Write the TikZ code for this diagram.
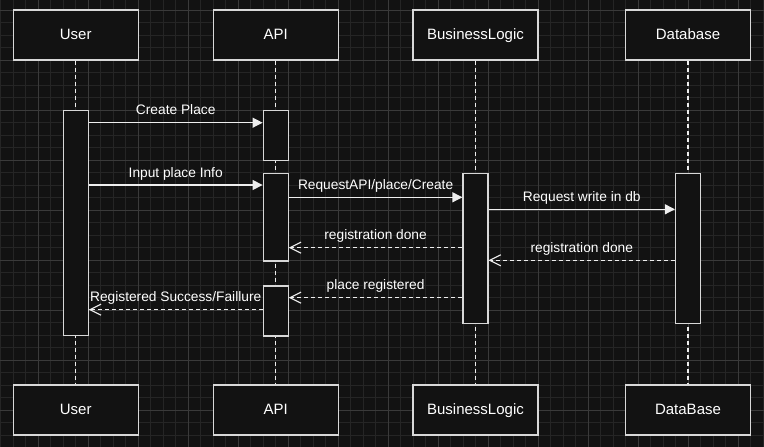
\documentclass[tikz,border=0pt]{standalone}
\usepackage{fontspec}
\setmainfont{Liberation Sans}
\usetikzlibrary{arrows.meta}
\definecolor{bgcol}{HTML}{121212}
\definecolor{minorcol}{HTML}{252525}
\definecolor{majorcol}{HTML}{3A3A3A}
\definecolor{linecol}{HTML}{EEEEEE}
\definecolor{edgecol}{HTML}{D8D8D8}
\begin{document}
\begin{tikzpicture}[x=1pt,y=-1pt,
    actor/.style={draw=edgecol, line width=1.2pt, fill=bgcol, minimum width=125pt, minimum height=50pt, text height=12pt, text depth=2.7pt, text=white, font=\fontsize{15}{18}\selectfont},
    bar/.style={draw=edgecol, line width=1.2pt, fill=bgcol, minimum width=25pt, anchor=north, inner sep=0pt},
    life/.style={linecol, line width=1.1pt, dash pattern=on 4pt off 3pt},
    call/.style={linecol, line width=1.2pt, -{Triangle[length=10pt,width=10pt]}},
    back/.style={linecol, line width=1.2pt, dash pattern=on 4pt off 3pt, -{Straight Barb[length=11pt,width=11pt,line width=1.1pt]}},
    lbl/.style={midway, anchor=base, yshift=7.8pt, inner sep=0pt, text=white, font=\fontsize{13.75}{16}\selectfont}]
  \useasboundingbox (0,0) rectangle (764,447);
  \fill [bgcol] (0,0) rectangle (764,447);
  % grid
  \foreach \gx in {0.5,13,...,763} \draw [minorcol, line width=0.8pt] (\gx,0) -- (\gx,447);
  \foreach \gy in {10,22.5,...,447} \draw [minorcol, line width=0.8pt] (0,\gy) -- (764,\gy);
  \foreach \gx in {38,88,...,738} \draw [majorcol, line width=0.8pt] (\gx,0) -- (\gx,447);
  \foreach \gy in {10,60,...,410} \draw [majorcol, line width=0.8pt] (0,\gy) -- (764,\gy);
  % participants
  \node [actor] (user) at (75.7,35) {User};
  \node [actor] (api) at (275.7,35) {API};
  \node [actor] (logic) at (475.5,35) {BusinessLogic};
  \node [actor] (db) at (688,35) {Database};
  \node [actor] (userB) at (75.7,410) {User};
  \node [actor] (apiB) at (275.7,410) {API};
  \node [actor] (logicB) at (475.5,410) {BusinessLogic};
  \node [actor] (dbB) at (688,410) {DataBase};
  % lifelines
  \draw [life] (user) -- (userB);
  \draw [life] (api) -- (apiB);
  \draw [life] (logic) -- (logicB);
  \draw [life] (db) -- (dbB);
  % activations
  \node [bar, minimum height=225pt] (ubar) at (user.south |- 0,110) {};
  \node [bar, minimum height=50pt] (abar1) at (api.south |- 0,110) {};
  \node [bar, minimum height=87.6pt] (abar2) at (api.south |- 0,172.7) {};
  \node [bar, minimum height=50pt] (abar3) at (api.south |- 0,285.3) {};
  \node [bar, minimum height=150pt] (lbar) at (logic.south |- 0,172.7) {};
  \node [bar, minimum height=150pt] (dbar) at (db.south |- 0,172.7) {};
  % messages
  \draw [call] (ubar.east |- 0,122.7) -- node [lbl] {Create Place} (abar1.west |- 0,122.7);
  \draw [call] (ubar.east |- 0,185) -- node [lbl] {Input place Info} (abar2.west |- 0,185);
  \draw [call] (abar2.east |- 0,197.3) -- node [lbl] {RequestAPI/place/Create} (lbar.west |- 0,197.3);
  \draw [call] (lbar.east |- 0,209.3) -- node [lbl] {Request write in db} (dbar.west |- 0,209.3);
  \draw [back] (lbar.west |- 0,247.7) -- node [lbl] {registration done} (abar2.east |- 0,247.7);
  \draw [back] (dbar.west |- 0,260.3) -- node [lbl] {registration done} (lbar.east |- 0,260.3);
  \draw [back] (lbar.west |- 0,297.7) -- node [lbl] {place registered} (abar3.east |- 0,297.7);
  \draw [back] (abar3.west |- 0,309.7) -- node [lbl] {Registered Success/Faillure} (ubar.east |- 0,309.7);
\end{tikzpicture}
\end{document}
